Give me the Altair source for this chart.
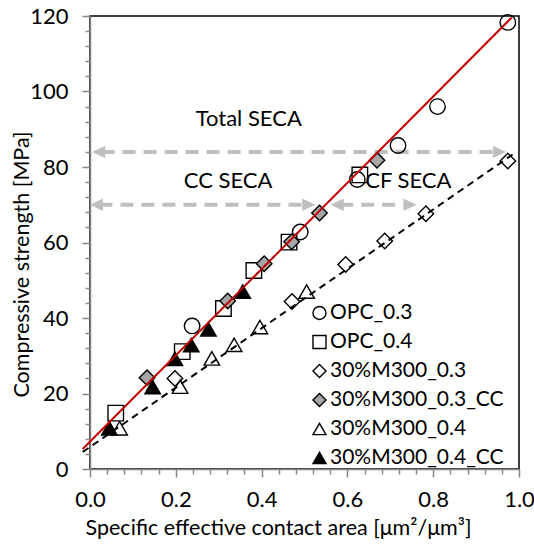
import altair as alt
import pandas as pd

# ---------------- data ----------------
series = ["OPC_0.3", "OPC_0.4", "30%M300_0.3", "30%M300_0.3_CC", "30%M300_0.4", "30%M300_0.4_CC"]

opc03_x = [0.974, 0.810, 0.718, 0.623, 0.490, 0.238]
opc03_y = [118.3, 96.0, 85.7, 76.7, 62.8, 37.9]
opc04_x = [0.629, 0.464, 0.382, 0.311, 0.215, 0.060]
opc04_y = [77.9, 60.1, 52.6, 42.5, 31.1, 14.8]
m03_x = [0.974, 0.783, 0.687, 0.596, 0.471, 0.198]
m03_y = [81.6, 67.6, 60.4, 54.2, 44.4, 24.0]
m03cc_x = [0.669, 0.535, 0.470, 0.406, 0.321, 0.133]
m03cc_y = [81.8, 67.8, 60.2, 54.4, 44.5, 24.2]
m04_x = [0.505, 0.396, 0.336, 0.284, 0.210, 0.069]
m04_y = [47.0, 37.6, 32.9, 29.3, 21.8, 10.8]
m04cc_x = [0.356, 0.276, 0.236, 0.198, 0.146, 0.045]
m04cc_y = [47.0, 37.0, 32.8, 29.2, 21.7, 10.8]

# trend lines (end points)
red_line_x = [-0.017, 0.983]
red_line_y = [5.3, 119.6]
black_line_x = [-0.017, 0.985]
black_line_y = [4.5, 83.3]

# annotation arrows (tip positions) and labels
arrow_names = ["Total", "CC", "CF"]
arrow_left = [0.005, 0.0, 0.561]
arrow_right = [0.970, 0.525, 0.761]
arrow_y = [84.0, 70.0, 70.0]

label_text = ["Total SECA", "CC SECA", "CF SECA"]
label_x = [0.370, 0.322, 0.742]
label_y = [92.6, 76.2, 76.2]

x_major = [0.0, 0.2, 0.4, 0.6, 0.8, 1.0]
y_major = [0, 20, 40, 60, 80, 100, 120]
x_minor = [round(i * 0.04, 2) for i in range(26) if i % 5 != 0]
y_minor = [i * 4 for i in range(31) if i % 5 != 0]

# ---------------- build tables ----------------
xs = [opc03_x, opc04_x, m03_x, m03cc_x, m04_x, m04cc_x]
ys = [opc03_y, opc04_y, m03_y, m03cc_y, m04_y, m04cc_y]
rows = []
for name, sx, sy in zip(series, xs, ys):
    for a, b in zip(sx, sy):
        rows.append({"series": name, "x": a, "y": b})
pts = pd.DataFrame(rows)

red_df = pd.DataFrame({"x": red_line_x, "y": red_line_y})
black_df = pd.DataFrame({"x": black_line_x, "y": black_line_y})

shaft_gap = 0.022  # keeps the thick shaft hidden behind the arrow head
arrows = pd.DataFrame({
    "name": arrow_names,
    "x1": [v + shaft_gap for v in arrow_left],
    "x2": [v - shaft_gap for v in arrow_right],
    "y": arrow_y,
})
heads = pd.DataFrame({
    "x": arrow_left + arrow_right,
    "y": arrow_y + arrow_y,
    "dir": ["L"] * 3 + ["R"] * 3,
})
labels = pd.DataFrame({"text": label_text, "x": label_x, "y": label_y})

FONT = "Lato"
AXIS_GREY = "#868686"
ARROW_GREY = "#BFBFBF"

x_scale = alt.Scale(domain=[0, 1], nice=False, zero=False)
y_scale = alt.Scale(domain=[0, 120], nice=False)

# labels + titles (shifted away from the plot with an axis offset)
X_OFF = 20
Y_OFF = 22
x_axis = alt.Axis(
    title="Specific effective contact area [μm²/μm³]", orient="bottom",
    values=x_major, tickCount=100, format=".1f", ticks=False, domain=False, offset=X_OFF,
    labelOverlap=False, labelFlush=False, grid=False, labelPadding=0,
    titleX=188, titleY=65 - X_OFF, titleBaseline="alphabetic", titleAlign="center",
)
y_axis = alt.Axis(
    title="Compressive strength [MPa]", orient="left",
    values=y_major, tickCount=100, ticks=False, domain=False, offset=Y_OFF,
    labelOverlap=False, grid=False, labelPadding=0,
    titleX=-68 + Y_OFF, titleY=248, titleBaseline="middle", titleAlign="center", titleAngle=-90,
)
# minor ticks
x_axis_minor = alt.Axis(orient="bottom", values=x_minor, tickCount=100, tickSize=5,
                        labels=False, title=None, grid=False, domain=False)
y_axis_minor = alt.Axis(orient="left", values=y_minor, tickCount=100, tickSize=5,
                        labels=False, title=None, grid=False, domain=False)
# major ticks + axis line
x_axis_major = alt.Axis(orient="bottom", values=x_major, tickCount=100, tickSize=8,
                        labels=False, title=None, grid=False, domain=True)
y_axis_major = alt.Axis(orient="left", values=y_major, tickCount=100, tickSize=8,
                        labels=False, title=None, grid=False, domain=True)

leg = alt.Legend(title=None, orient="none", legendX=219, legendY=286.5, padding=0,
                 symbolSize=170, symbolStrokeWidth=1.4,
                 labelFont=FONT, labelFontSize=21, labelColor="black", labelOffset=0,
                 labelLimit=400, rowPadding=7)

points = alt.Chart(pts).mark_point(filled=False, strokeWidth=1.4, opacity=1, size=240).encode(
    x=alt.X("x:Q", scale=x_scale, axis=x_axis),
    y=alt.Y("y:Q", scale=y_scale, axis=y_axis),
    shape=alt.Shape("series:N", scale=alt.Scale(
        domain=series,
        range=["circle", "square", "diamond", "diamond", "triangle-up", "triangle-up"]), legend=leg),
    fill=alt.Fill("series:N", scale=alt.Scale(
        domain=series,
        range=["transparent", "transparent", "transparent", "#A6A6A6", "transparent", "black"]), legend=leg),
    stroke=alt.Stroke("series:N", scale=alt.Scale(
        domain=series, range=["black"] * 6), legend=leg),
)

red = alt.Chart(red_df).mark_line(color="#C00000", strokeWidth=2).encode(
    x=alt.X("x:Q", axis=x_axis_minor), y=alt.Y("y:Q", axis=y_axis_minor))
black = alt.Chart(black_df).mark_line(color="black", strokeWidth=2, strokeDash=[7, 5]).encode(
    x=alt.X("x:Q", axis=x_axis_major), y=alt.Y("y:Q", axis=y_axis_major))

shafts = alt.Chart(arrows).mark_rule(color=ARROW_GREY, strokeWidth=4, strokeDash=[13, 8]).encode(
    x=alt.X("x1:Q", axis=None), x2="x2:Q", y=alt.Y("y:Q", axis=None))
head_l = alt.Chart(heads[heads["dir"] == "L"]).mark_point(
    shape="M0,0L2,-0.95L2,0.95Z", size=169, filled=True, color=ARROW_GREY, opacity=1).encode(
    x=alt.X("x:Q", axis=None), y=alt.Y("y:Q", axis=None))
head_r = alt.Chart(heads[heads["dir"] == "R"]).mark_point(
    shape="M0,0L-2,-0.95L-2,0.95Z", size=169, filled=True, color=ARROW_GREY, opacity=1).encode(
    x=alt.X("x:Q", axis=None), y=alt.Y("y:Q", axis=None))

texts = alt.Chart(labels).mark_text(font=FONT, fontSize=22, color="black", baseline="middle").encode(
    x=alt.X("x:Q", axis=None), y=alt.Y("y:Q", axis=None), text="text:N")

chart = alt.layer(shafts, head_l, head_r, points, red, black, texts).resolve_axis(
    x="independent", y="independent"
).properties(
    width=429, height=453,
    autosize=alt.AutoSizeParams(type="none"),
    padding={"left": 90, "top": 16, "right": 15, "bottom": 75},
).configure_view(
    stroke="black", strokeWidth=1.5,
).configure_axis(
    domainColor=AXIS_GREY, domainWidth=1.5, tickColor=AXIS_GREY, tickWidth=1.5,
    labelFont=FONT, labelFontSize=22, labelColor="black",
    titleFont=FONT, titleFontSize=21.5, titleFontWeight="normal", titleColor="black",
)

chart.save("out.html", embed_options={"renderer": "svg", "actions": False})
